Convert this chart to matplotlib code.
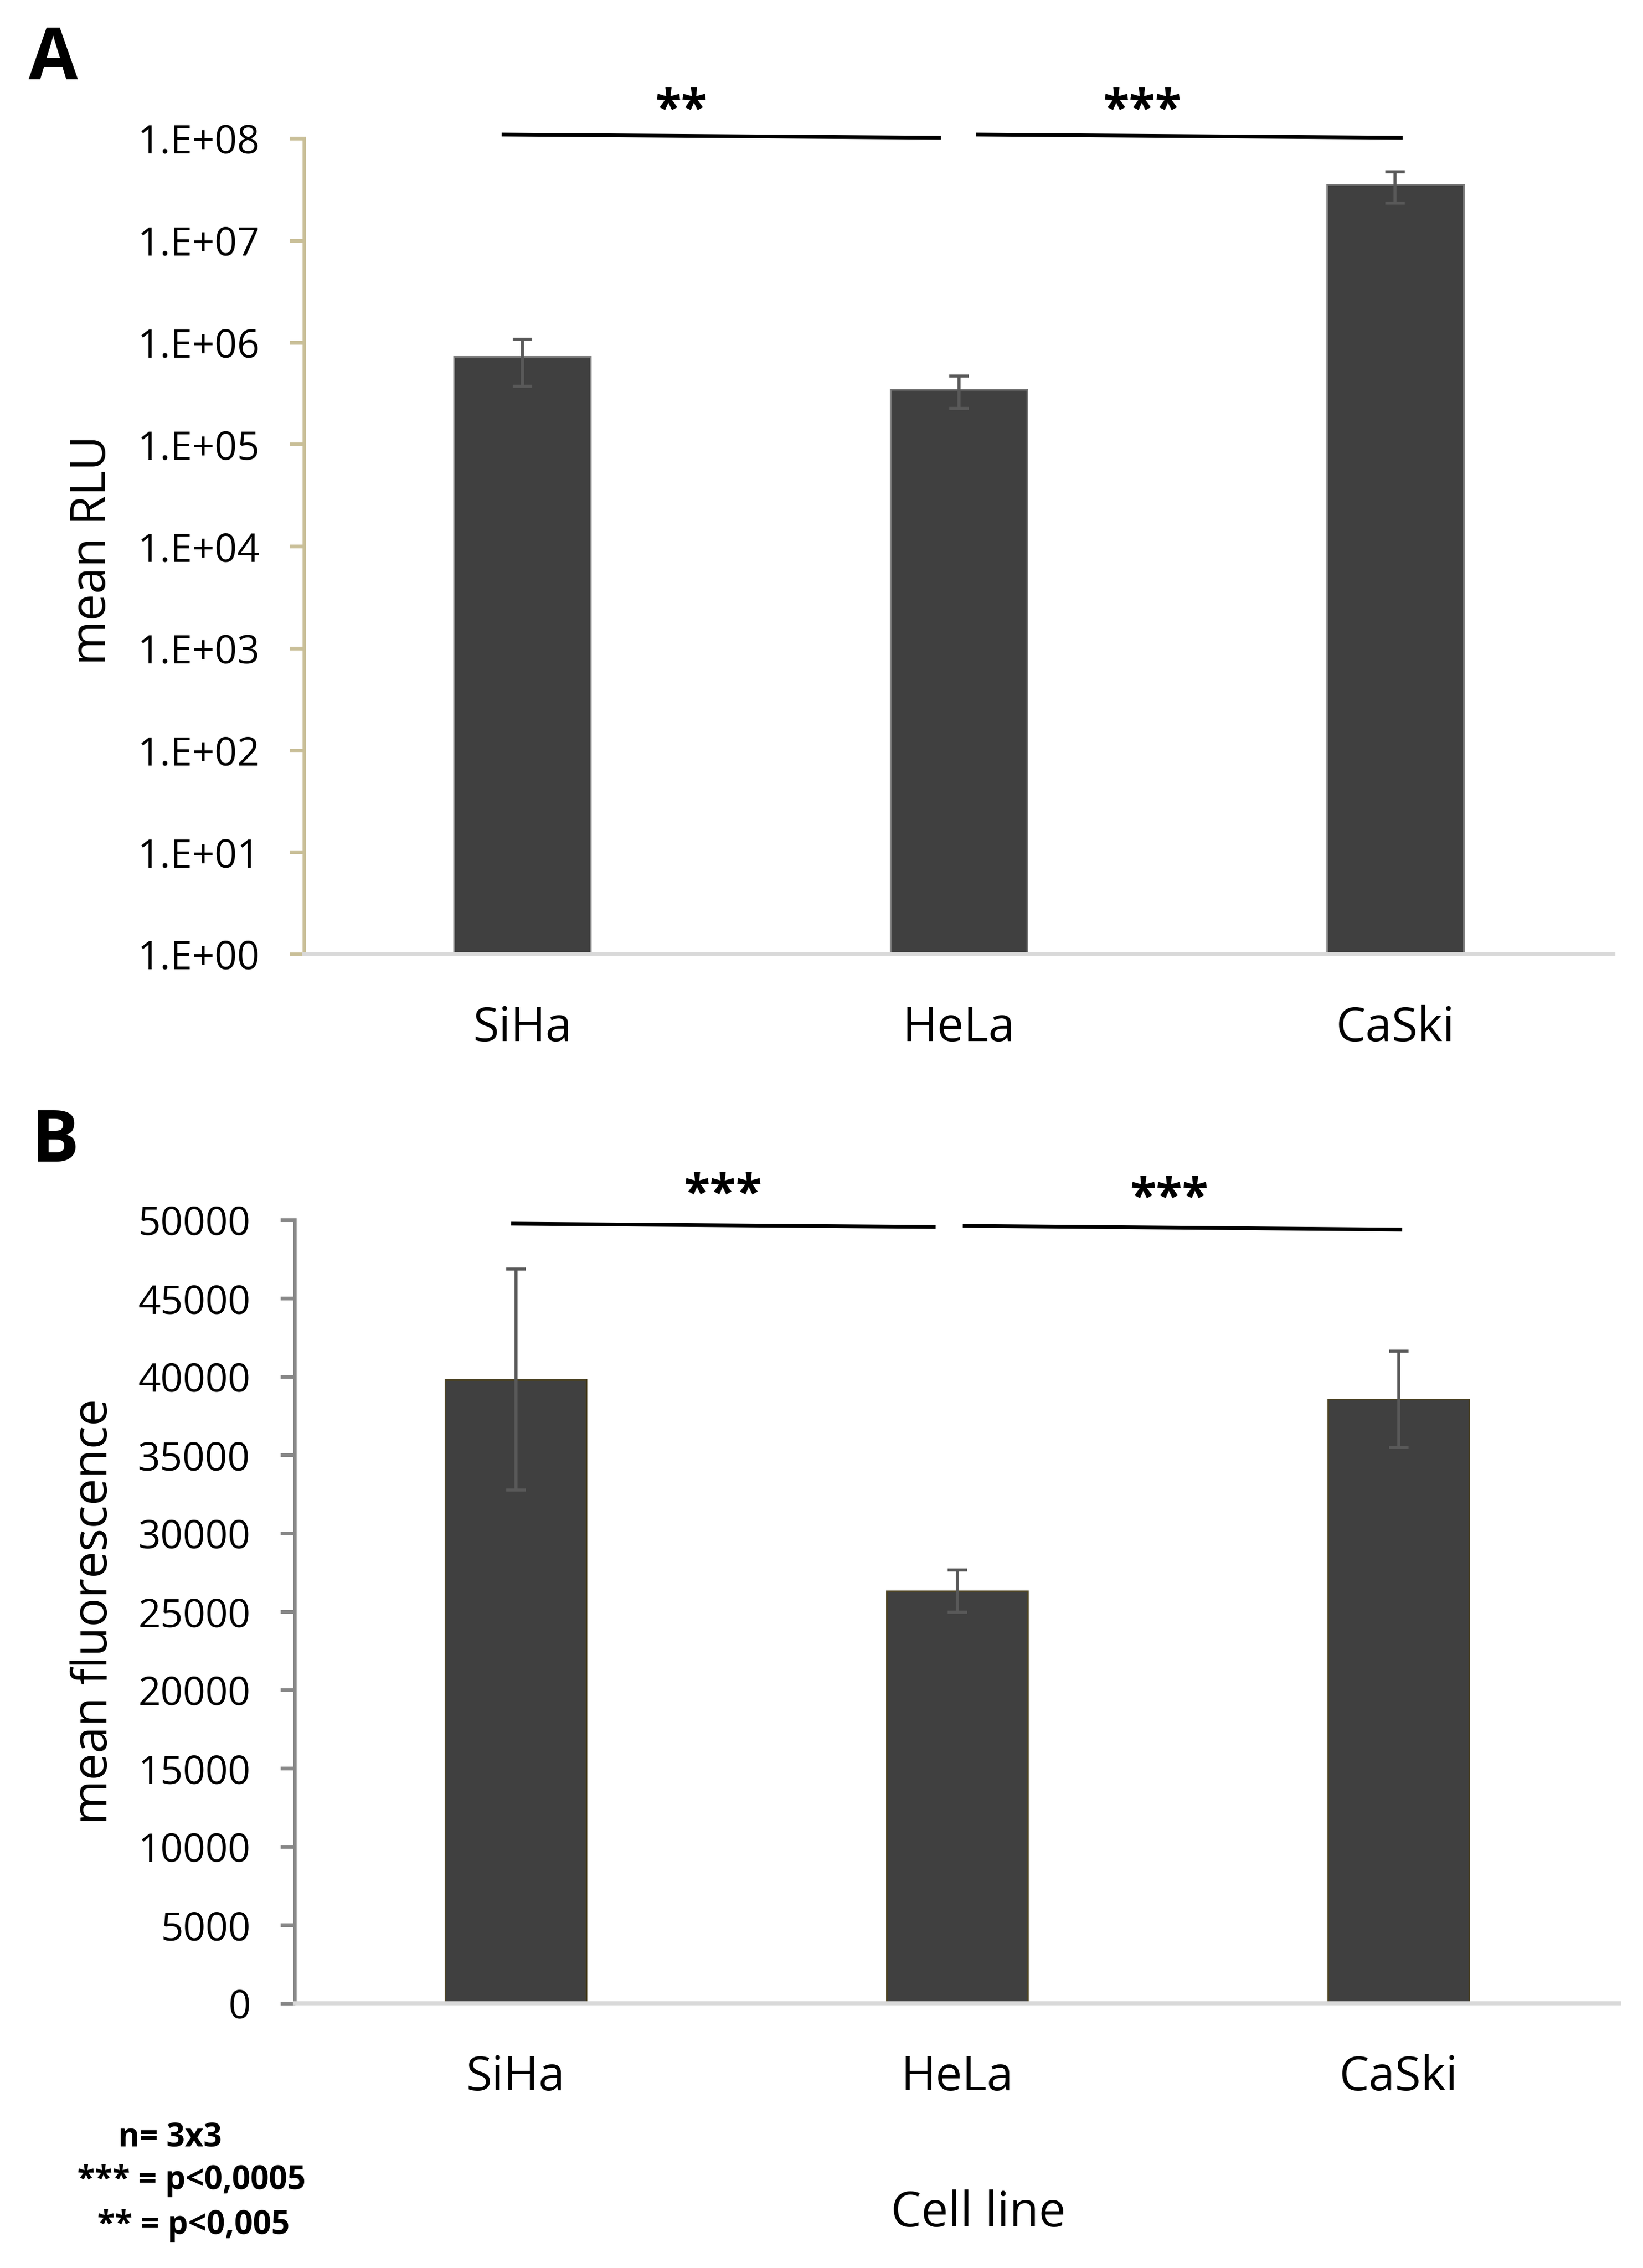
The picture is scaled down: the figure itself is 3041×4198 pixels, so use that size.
import matplotlib
matplotlib.use("Agg")
import matplotlib.pyplot as plt

plt.rcParams['font.family'] = ['Open Sans', 'DejaVu Sans']

# data
cell_lines = ["SiHa", "HeLa", "CaSki"]
rlu_mean = [7.2e5, 3.45e5, 3.5e7]
rlu_err = [3.5e5, 1.2e5, 1.2e7]
fluo_mean = [39800, 26300, 38550]
fluo_err = [7050, 1350, 3070]

rlu_ticks = [1e0, 1e1, 1e2, 1e3, 1e4, 1e5, 1e6, 1e7, 1e8]
rlu_tick_labels = ["1.E+00", "1.E+01", "1.E+02", "1.E+03", "1.E+04",
                   "1.E+05", "1.E+06", "1.E+07", "1.E+08"]
fluo_ticks = [0, 5000, 10000, 15000, 20000, 25000, 30000, 35000, 40000, 45000, 50000]

# significance: label, line start, line end, label centre (category units)
sig_A = [("**", -0.043, 0.955, 0.364), ("***", 1.044, 2.013, 1.42)]
sig_B = [("***", -0.006, 0.947, 0.469), ("***", 1.017, 2.004, 1.48)]

W, H = 3041, 4198
fig = plt.figure(figsize=(W / 100, H / 100), dpi=100)

axA = fig.add_axes([563 / W, 1 - 1766 / H, (2986 - 563) / W, (1766 - 256) / H])
axB = fig.add_axes([546 / W, 1 - 3708 / H, (2997 - 546) / W, (3708 - 2258) / H])

x = range(len(cell_lines))
err_kw = dict(ecolor="#595959", elinewidth=4, capsize=13, capthick=4)

axA.bar(x, rlu_mean, width=0.313, color="#404040", edgecolor="#7f7f7f",
        linewidth=2.2, yerr=rlu_err, error_kw=err_kw)
axA.set_yscale("log")
axA.set_ylim(1, 1e8)
axA.set_yticks(rlu_ticks)
axA.set_yticklabels(rlu_tick_labels)
axA.minorticks_off()

axB.bar(x, fluo_mean, width=0.32, color="#404040", edgecolor="#4b4223",
        linewidth=2.2, yerr=fluo_err, error_kw=err_kw)
axB.set_ylim(0, 50000)
axB.set_yticks(fluo_ticks)

for ax, spine_col in [(axA, "#c9bf98"), (axB, "#878787")]:
    ax.set_xlim(-0.5, 2.5)
    ax.set_xticks(list(x))
    ax.set_xticklabels(cell_lines, fontsize=63)
    ax.spines["top"].set_visible(False)
    ax.spines["right"].set_visible(False)
    ax.spines["left"].set_color(spine_col)
    ax.spines["left"].set_linewidth(4.3)
    ax.spines["bottom"].set_color("#d9d9d9")
    ax.spines["bottom"].set_linewidth(5.4)
    ax.tick_params(axis="y", direction="out", length=19.4, width=5,
                   color=spine_col, labelsize=52.5, pad=40)
    ax.tick_params(axis="x", length=0, pad=68)

axA.set_ylabel("mean RLU", fontsize=64, va="baseline")
axA.yaxis.set_label_coords(-0.152, 0.495)
axB.set_ylabel("mean fluorescence", fontsize=64, va="baseline")
axB.yaxis.set_label_coords(-0.142, 0.5)
axB.set_xlabel("Cell line", fontsize=64, va="baseline")
axB.xaxis.set_label_coords(0.516, -0.2848)

# significance bars
def draw_sig(ax, sig, y_line, y_text):
    for (label, x0, x1, xt), yl, yt in zip(sig, y_line, y_text):
        ax.plot([x0, x1], yl, color="black", linewidth=5,
                transform=ax.get_xaxis_transform(), clip_on=False)
        ax.text(xt, yt, label, fontsize=64, fontweight="bold",
                ha="center", va="baseline", transform=ax.get_xaxis_transform())

draw_sig(axA, sig_A, [(1.0046, 1.0007), (1.0046, 1.0007)], [1.018, 1.018])
draw_sig(axB, sig_B, [(0.9952, 0.991), (0.9924, 0.9876)], [1.015, 1.010])

# panel letters
fig.text(53 / W, 1 - 146 / H, "A", fontsize=95, fontweight="bold", ha="left", va="baseline")
fig.text(57 / W, 1 - 2150 / H, "B", fontsize=95, fontweight="bold", ha="left", va="baseline")

# notes
fig.text(315 / W, 1 - 3974 / H, "n= 3x3", fontsize=43, fontweight="bold", ha="center", va="baseline")
fig.text(354 / W, 1 - 4052 / H, "*** = p<0,0005", fontsize=43, fontweight="bold", ha="center", va="baseline")
fig.text(358 / W, 1 - 4135 / H, "** = p<0,005", fontsize=43, fontweight="bold", ha="center", va="baseline")

fig.savefig("out.png", dpi=100, facecolor="white")
